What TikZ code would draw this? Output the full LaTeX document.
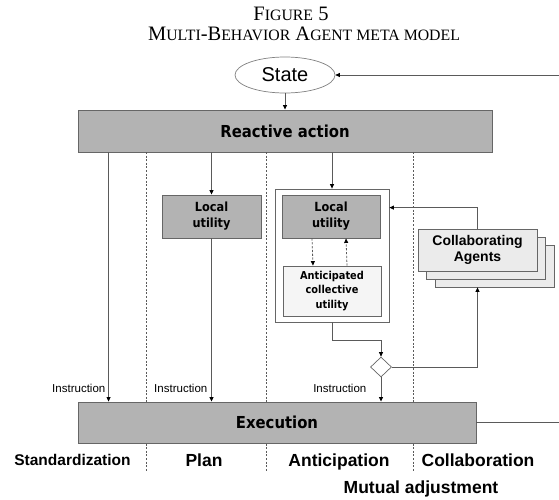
\documentclass[tikz,border=0pt]{standalone}
\usepackage{fontspec}
\setmainfont{Liberation Serif}
\newfontfamily\arialfont{Liberation Sans}
\newfontfamily\verafont[FakeStretch=0.9]{DejaVu Sans}
\usetikzlibrary{arrows.meta,shapes.geometric}
\definecolor{boxgray}{HTML}{B3B3B3}
\definecolor{edgegray}{HTML}{666666}
\definecolor{linegray}{HTML}{5A5A5A}
\definecolor{palegray}{HTML}{F5F5F5}
\definecolor{agentgray}{HTML}{EBEBEB}
\newcommand{\fakesc}[1]{{\fontsize{15.8}{16}\selectfont #1}}

\begin{document}
\begin{tikzpicture}[x=1pt,y=-1pt]
        \tikzset{graybox/.style={draw=edgegray, fill=boxgray, line width=0.9pt, inner sep=0pt, align=center},
                 whitebox/.style={draw=edgegray, fill=white, line width=0.8pt, inner sep=0pt, align=center},
                 agentbox/.style={draw=edgegray, fill=agentgray, line width=0.8pt, inner sep=0pt, minimum width=119, minimum height=42},
                 link/.style={draw=linegray, line width=0.8pt, -{Triangle[length=4.5pt, width=4pt, color=black]}},
                 dashlink/.style={link, dash pattern=on 2.2pt off 1.6pt},
                 lane/.style={draw=linegray, line width=0.6pt, dash pattern=on 2pt off 1.6pt},
                 lbl/.style={inner sep=0pt, font=\arialfont\fontsize{11.5}{13}\selectfont},
                 kind/.style={inner sep=0pt, anchor=base, font=\arialfont\bfseries\fontsize{17.5}{19}\selectfont}}
        \useasboundingbox (0,0) rectangle (559,499);
        \node [inner sep=0pt] (fig)   at (291,14) {\fontsize{20.5}{21}\selectfont F\fakesc{IGURE} 5};
        \node [inner sep=0pt] (title) at (304,34) {\fontsize{20.5}{21}\selectfont M\fakesc{ULTI}-B\fakesc{EHAVIOR} A\fakesc{GENT META MODEL}};
        \node [ellipse, draw=gray, line width=0.7pt, fill=white, minimum width=100, minimum height=36, inner sep=0pt,
               font=\arialfont\fontsize{20}{22}\selectfont] (state) at (285,75) {State};
        \node [graybox, minimum width=414, minimum height=42, font=\verafont\bfseries\fontsize{16.5}{18}\selectfont] (react) at (285,131) {Reactive action};
        \foreach \x in {146,266,413}
            \draw [lane] (\x,152) -- (\x,472);
        \node [graybox, minimum width=398, minimum height=41, font=\verafont\bfseries\fontsize{16.5}{18}\selectfont] (exec) at (277,422.5) {Execution};
        \node [graybox, minimum width=99, minimum height=43, font=\verafont\bfseries\fontsize{12.6}{16}\selectfont] (plan) at (211.5,216.5) {Local\\utility};
        \node [whitebox, minimum width=114, minimum height=133] (antbox) at (332,255.5) {};
        \node [graybox, minimum width=98, minimum height=43, font=\verafont\bfseries\fontsize{12.6}{16}\selectfont] (local) at (331,216.5) {Local\\utility};
        \node [whitebox, fill=palegray, minimum width=98, minimum height=50, font=\verafont\bfseries\fontsize{10.9}{14.2}\selectfont] (collective) at (332,291) {Anticipated\\collective\\utility};
        \node [agentbox] (agent3) at (494.5,266) {};
        \node [agentbox] (agent2) at (486,258) {};
        \node [agentbox, align=center, font=\arialfont\bfseries\fontsize{14}{16.7}\selectfont] (agent1) at (477.5,250) {Collaborating\\Agents};
        \node [diamond, draw=edgegray, fill=white, line width=0.7pt, minimum width=21, minimum height=20, inner sep=0pt] (merge) at (381,367) {};
        \coordinate (inR)  at (559,75);
        \coordinate (outR) at (559,0);
        \draw [link] (inR) -- (state.east);
        \draw [link] (state) -- (react);
        \draw [link] ([xshift=31pt]react.south west) -- ([xshift=31pt]exec.north west);
        \draw [link] (react.south -| plan.north) -- (plan.north);
        \draw [link] (plan.south) -- (plan.south |- exec.north);
        \draw [link] (react.south -| antbox.north) -- (antbox.north);
        \draw [dashlink] ([xshift=-19pt]local.south) -- ([xshift=-19pt]collective.north);
        \draw [dashlink] ([xshift=15pt]collective.north) -- ([xshift=15pt]local.south);
        \draw [link] (antbox.south) -- ++(0,18) -| (merge.north);
        \draw [link] (merge.south) -- (merge.south |- exec.north);
        \draw [link] (merge.east) -| (agent3.south -| agent1.north);
        \draw [link] (agent1.north) -- ++(0,-21) coordinate (fbturn) -- (fbturn -| antbox.east);
        \draw [draw=linegray, line width=0.8pt] (exec.east) -- (exec.east -| outR);
        \node [lbl, anchor=east] (ins1) at (105.5,388) {Instruction};
        \node [lbl, anchor=east] (ins2) at (207.5,388) {Instruction};
        \node [lbl, anchor=east] (ins3) at (366.5,388) {Instruction};
        \node [kind, font=\arialfont\bfseries\fontsize{15.5}{17}\selectfont] (std) at (72.5,465) {Standardization};
        \node [kind] (plnlbl)   at (204,466) {Plan};
        \node [kind] (antlbl)   at (339,466) {Anticipation};
        \node [kind] (collbl)   at (478,466) {Collaboration};
        \node [kind] (mutual)   at (421,493) {Mutual adjustment};
    \end{tikzpicture}
\end{document}
